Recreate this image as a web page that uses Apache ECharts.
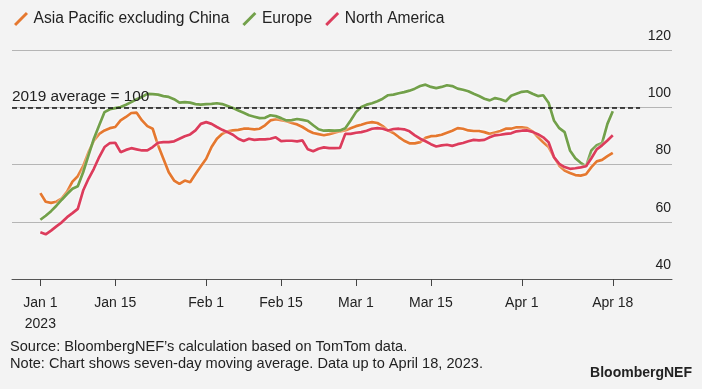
<!DOCTYPE html>
<html>
<head>
<meta charset="utf-8">
<script src="https://cdn.jsdelivr.net/npm/echarts@6/dist/echarts.min.js"></script>
<style>
  html, body { margin: 0; padding: 0; background: #f3f3f3; }
  #chart { width: 702px; height: 389px; }
</style>
</head>
<body>
<div id="chart"></div>
<script>
// Days since Jan 1, 2023 (index = day number), 7-day moving average, 2019 average = 100
var seriesNames = ['Asia Pacific excluding China', 'Europe', 'North America'];

var apac = [
  70,67,66.6,67,68.2,70.5,74,75.9,79.4,84.3,
  88.3,90.7,91.9,92.7,93.1,95.4,96.6,98,98.1,95.4,
  93.4,92.5,86.7,82,77.3,74.4,73.2,74.4,73.8,76.7,
  79.4,82,86.1,89,90.7,91.6,91.9,92.1,92.5,92.5,
  92.3,92.5,93.7,95.4,95.8,95.5,95.1,94.5,94,93.1,
  91.9,91,90.6,90.2,90.6,91.1,91.6,91.9,92.7,93.4,
  93.9,94.5,94.8,94.5,93.4,91.9,91,89.6,88.3,87.4,
  87.4,87.8,89.3,89.9,90,90.4,91.1,91.8,92.7,92.5,
  91.9,91.7,91.7,91.3,90.7,91.2,91.7,92.5,92.5,93,
  93,92.7,91.6,89.6,87.8,86.1,82.6,79.6,77.9,77,
  76.3,76.1,76.6,79.1,81.1,81.6,82.9,84.1
];

var europe = [
  60.7,62.1,63.7,65.6,67.7,69.7,71.5,72.4,77.3,83.2,
  89,93.7,98.3,99.3,99.7,100.1,100.9,101.8,102.8,103.6,
  104.7,104.6,104.4,103.9,103.6,102.8,101.6,101.8,101.6,101.1,
  100.9,101.1,101.2,101.4,101.1,100.4,99.7,98.9,98.1,97.2,
  96.7,96.2,96.3,97.2,96.9,96.2,95.4,95.5,95.9,95.6,
  95.2,93.7,92.3,91.8,91.9,91.8,91.9,92.7,95.4,98.3,
  100.1,100.9,101.4,102.1,103,104.2,104.4,104.9,105.3,105.8,
  106.5,107.4,107.9,107.1,106.7,107.1,107.7,107.4,106.5,106.1,
  105.6,104.7,103.9,103,102.4,103.2,102.8,102.1,104,104.7,
  105.4,105.6,104.7,103.9,104.2,101.6,95.4,92.7,91.3,84.9,
  82.2,80.6,79.4,84.9,86.7,87.5,94.2,98.6
];

var namerica = [
  56.3,55.6,56.9,58.4,59.8,61.6,63,64.5,70.9,75,
  78.5,82.6,86.1,87.5,87.6,84.3,85.1,85.7,85.3,84.9,
  84.9,86.1,87.6,87.8,87.8,88.1,89,89.9,90.5,91.9,
  94.2,94.8,94.2,93.1,92.1,91.3,90.4,89,88.2,89,
  88.6,88.8,88.8,89,89.5,88.2,88.3,88.3,88.1,88.4,
  85.3,84.6,85.5,86,85.7,85.7,85.8,90.7,90.7,91.1,
  91.3,91.8,92.5,92.7,92.5,91.9,92.4,92.5,92.3,91.6,
  90.2,89,88.1,87.1,86.3,86.7,86.9,86.5,87.1,87.5,
  88.1,88.6,88.4,88.6,89.5,90.2,90.4,90.7,90.9,91.6,
  91.8,91.9,91.4,90.6,89.5,87.8,82.6,80.2,79.1,78.5,
  78.7,79,79.4,82.2,85.3,86.7,88.4,90.2
];

var tickDays = [0, 14, 31, 45, 59, 73, 90, 107];
var tickLabels = ['Jan 1\n2023', 'Jan 15', 'Feb 1', 'Feb 15', 'Mar 1', 'Mar 15', 'Apr 1', 'Apr 18'];
var yTicks = [40, 60, 80, 100, 120];
var baseline = 100;
var baselineLabel = '2019 average = 100';
var sourceText = 'Source: BloombergNEF\u2019s calculation based on TomTom data.';
var noteText = 'Note: Chart shows seven-day moving average. Data up to April 18, 2023.';
var brandText = 'BloombergNEF';

var colors = ['#e5782f', '#72a04a', '#dc3c5c'];
var FONT = '"Liberation Sans", Arial, Helvetica, sans-serif';

function toPairs(arr) { return arr.map(function (v, i) { return [i, v]; }); }

var xMin = -5.3, xMax = 118.07, baselineEnd = 112.1;

var chart = echarts.init(document.getElementById('chart'), null, { renderer: 'canvas' });

var lineCommon = function (name, data, color, extra) {
  var s = {
    name: name,
    type: 'line',
    data: toPairs(data),
    showSymbol: false,
    symbol: 'none',
    smooth: false,
    color: color,
    lineStyle: { width: 2.7, color: color, shadowColor: 'rgba(255,255,255,0.9)', shadowBlur: 3 },
    emphasis: { disabled: true },
    animation: false
  };
  if (extra) for (var k in extra) s[k] = extra[k];
  return s;
};

var option = {
  backgroundColor: '#f3f3f3',
  animation: false,
  textStyle: { fontFamily: FONT },
  grid: { left: 12, right: 30, top: 50, bottom: 110, containLabel: false },
  legend: {
    left: 9, top: 6,
    itemWidth: 15, itemHeight: 14, itemGap: 13,
    icon: 'path://M0,11.5 L11.5,0 L13.5,2 L2,13.5 Z',
    itemStyle: { borderWidth: 0 },
    textStyle: { fontSize: 15.6, color: '#222', fontFamily: FONT },
    data: seriesNames
  },
  xAxis: {
    type: 'value', min: xMin, max: xMax,
    axisLine: { show: true, lineStyle: { color: '#555', width: 1 } },
    axisTick: { show: true, customValues: tickDays, length: 7, lineStyle: { color: '#444', width: 1 } },
    axisLabel: {
      customValues: tickDays,
      formatter: function (v) { var i = tickDays.indexOf(Math.round(v)); return i >= 0 ? tickLabels[i] : ''; },
      fontSize: 14, color: '#222', margin: 14, lineHeight: 21, fontFamily: FONT
    },
    splitLine: { show: false }
  },
  yAxis: {
    type: 'value', position: 'right', min: 40, max: 120, interval: 20,
    axisLine: { show: false }, axisTick: { show: false },
    axisLabel: { inside: true, margin: 1, fontSize: 14, color: '#222', verticalAlign: 'bottom', padding: [0, 0, 7, 0], fontFamily: FONT },
    splitLine: { show: true, lineStyle: { color: '#b5b5b5', width: 1.2 } }
  },
  series: [
    lineCommon(seriesNames[0], apac, colors[0], {
      markLine: {
        silent: true, symbol: 'none', animation: false,
        lineStyle: { color: '#111', type: [5, 3], width: 1.5 },
        label: { show: true, position: 'insideStartTop', formatter: baselineLabel, fontSize: 15.4, color: '#222', distance: [0, 3], fontFamily: FONT },
        data: [[{ coord: [xMin, baseline] }, { coord: [baselineEnd, baseline] }]]
      }
    }),
    lineCommon(seriesNames[1], europe, colors[1]),
    lineCommon(seriesNames[2], namerica, colors[2])
  ],
  graphic: [
    { type: 'text', left: 10, top: 338, style: { text: sourceText + '\n' + noteText, fontSize: 14.6, lineHeight: 17, fill: '#222', fontFamily: FONT } },
    { type: 'text', right: 10, top: 366, style: { text: brandText, fontSize: 14, fontWeight: 'bold', fill: '#222', fontFamily: FONT } }
  ]
};

chart.setOption(option);
</script>
</body>
</html>
